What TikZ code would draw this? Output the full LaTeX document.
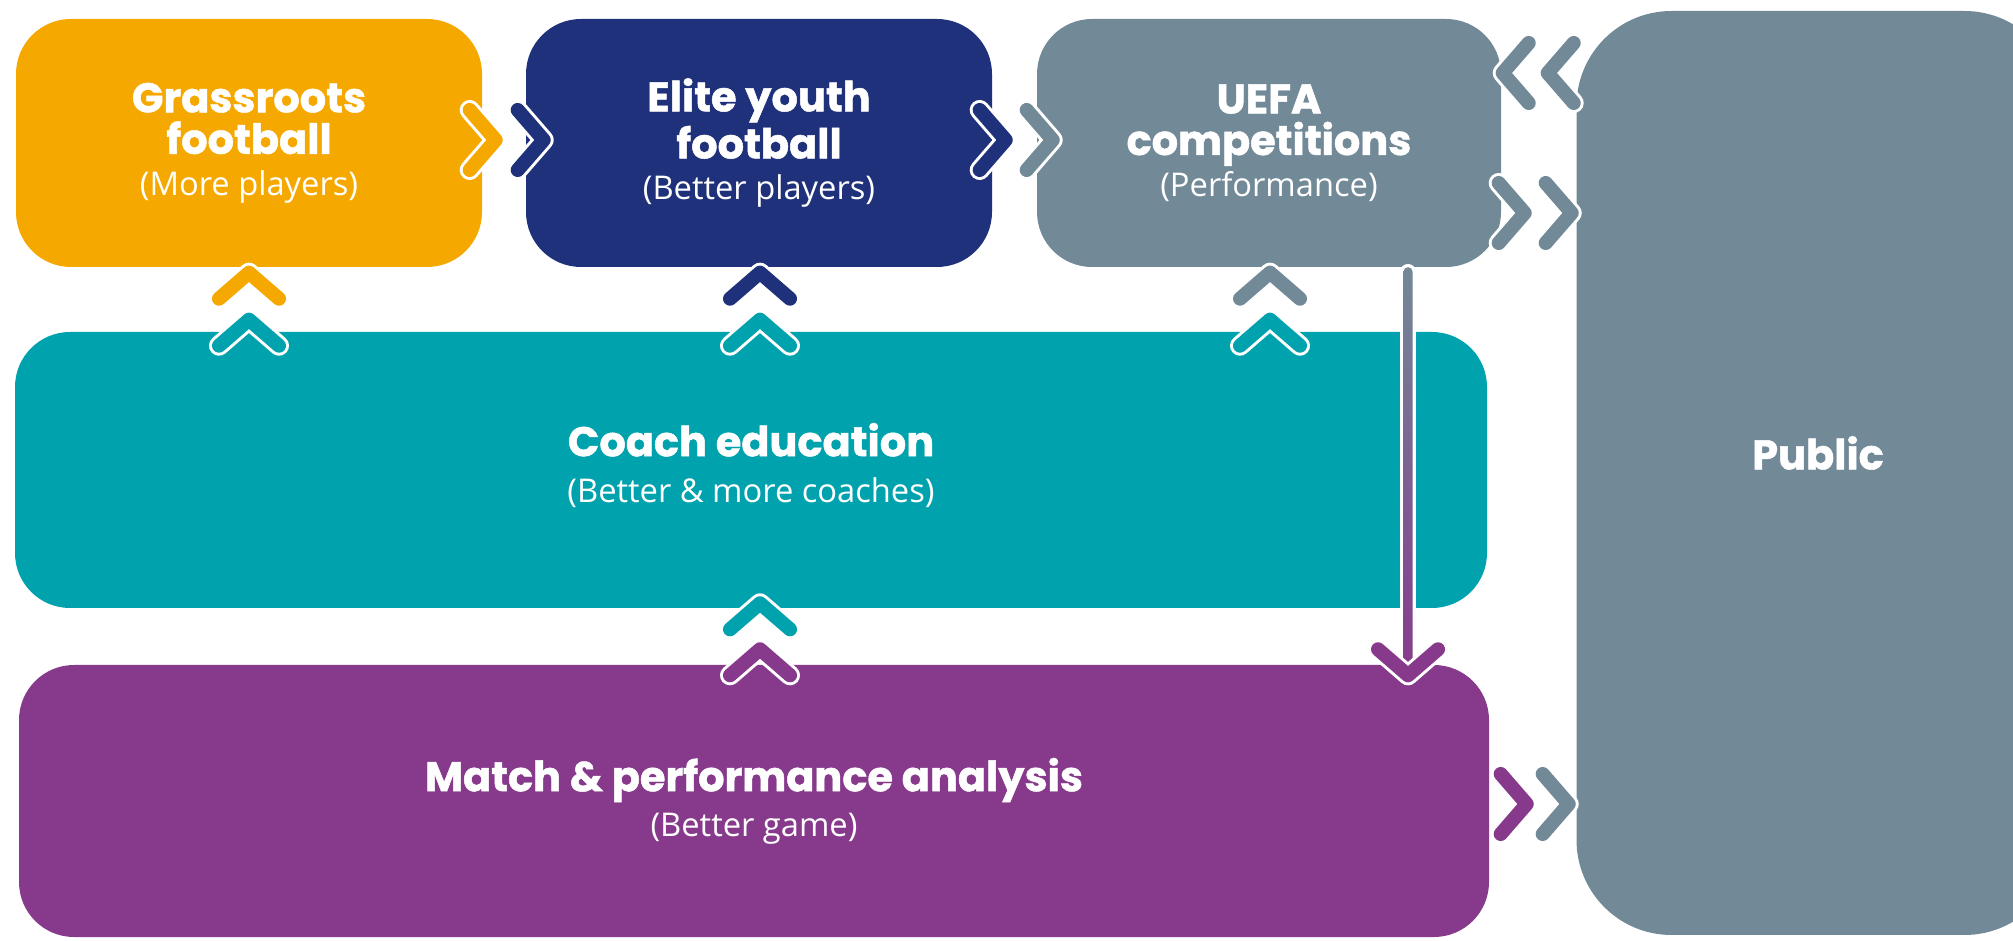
\documentclass[tikz,border=0pt]{standalone}
\usepackage{fontspec}
\setmainfont{Open Sans}
\newfontfamily\headfont{Poppins}[BoldFeatures={FakeBold=1.2}]
\usetikzlibrary{calc}
\definecolor{uorange}{HTML}{F5A800}
\definecolor{unavy}{HTML}{1F317A}
\definecolor{ugray}{HTML}{728997}
\definecolor{uteal}{HTML}{00A2AD}
\definecolor{upurple}{HTML}{873A8C}
\newcommand{\head}[1]{{\headfont\bfseries\fontsize{11.8}{11.8}\selectfont #1}}

\begin{document}
\begin{tikzpicture}[x=0.1mm,y=-0.1mm,
		box/.style={rectangle,rounded corners=5.5mm,inner sep=0pt,text=white,align=center,font=\fontsize{9.3}{11.8}\selectfont},
		pics/chev/.style={code={
			\draw[white,line width=5.7pt,line cap=round,line join=round] (-26,-30) -- (0,0) -- (-26,30);
			\draw[#1,line width=4pt,line cap=round,line join=round] (-26,-30) -- (0,0) -- (-26,30);
		}}]
		\useasboundingbox (0,0) rectangle (2013,941);
		\node[box,fill=uorange,minimum width=46.6mm,minimum height=24.8mm] (grass) at (249,143) {\head{Grassroots}\\\head{football}\\(More players)};
		\node[box,fill=unavy,minimum width=46.6mm,minimum height=24.8mm] (elite) at (759,143) {\head{Elite youth}\\\head{football}\\(Better players)};
		\node[box,fill=ugray,minimum width=46.4mm,minimum height=24.8mm] (uefa) at (1269,143) {\head{UEFA}\\\head{competitions}\\(Performance)};
		\node[box,fill=uteal,minimum width=147.2mm,minimum height=27.6mm,text depth=4pt] (coach) at (751,470) {\head{Coach education}\\[1.5pt](Better \& more coaches)};
		\node[box,fill=upurple,minimum width=147mm,minimum height=27.2mm] (match) at (754,801) {\head{Match \& performance analysis}\\[1pt](Better game)};
		\node[box,fill=ugray,rounded corners=9.5mm,minimum width=48.3mm,minimum height=92.4mm,text depth=11.5pt] (public) at (1818,473) {\head{Public}};
		\pic at ($(grass.east)+(13,-3)$) {chev=uorange};
		\pic at ($(grass.east)+(61,-3)$) {chev=unavy};
		\pic at ($(elite.east)+(13,-3)$) {chev=unavy};
		\pic at ($(elite.east)+(60,-3)$) {chev=ugray};
		\pic[rotate=180] at ($(uefa.east)+(1,-70)$) {chev=ugray};
		\pic[rotate=180] at ($(uefa.east)+(46,-70)$) {chev=ugray};
		\pic at ($(uefa.east)+(23,70)$) {chev=ugray};
		\pic at ($(uefa.east)+(70,70)$) {chev=ugray};
		\pic at ($(match.east)+(37,3)$) {chev=upurple};
		\pic at ($(match.east)+(79,3)$) {chev=ugray};
		\pic[rotate=90] at ($(grass.south)+(0,5)$) {chev=uorange};
		\pic[rotate=90] at ($(grass.south)+(0,52)$) {chev=uteal};
		\pic[rotate=90] at ($(elite.south)+(1,5)$) {chev=unavy};
		\pic[rotate=90] at ($(elite.south)+(1,52)$) {chev=uteal};
		\pic[rotate=90] at ($(uefa.south)+(1,5)$) {chev=ugray};
		\pic[rotate=90] at ($(uefa.south)+(1,52)$) {chev=uteal};
		\pic[rotate=90] at ($(elite.south |- match.north)+(1,-61)$) {chev=uteal};
		\pic[rotate=90] at ($(elite.south |- match.north)+(1,-15)$) {chev=upurple};
		\coordinate (dropA) at ($(uefa.south)+(139,4)$);
		\coordinate (dropB) at ($(uefa.south |- match.north)+(139,11)$);
		\draw[white,line width=4.4pt,line cap=round] (dropA) -- (dropB);
		\shade[top color=ugray,bottom color=upurple,rounded corners=0.45mm] ($(dropA)+(-4.5,-4.5)$) rectangle ($(dropB)+(4.5,0)$);
		\pic[rotate=-90] at (dropB) {chev=upurple};
\end{tikzpicture}
\end{document}
